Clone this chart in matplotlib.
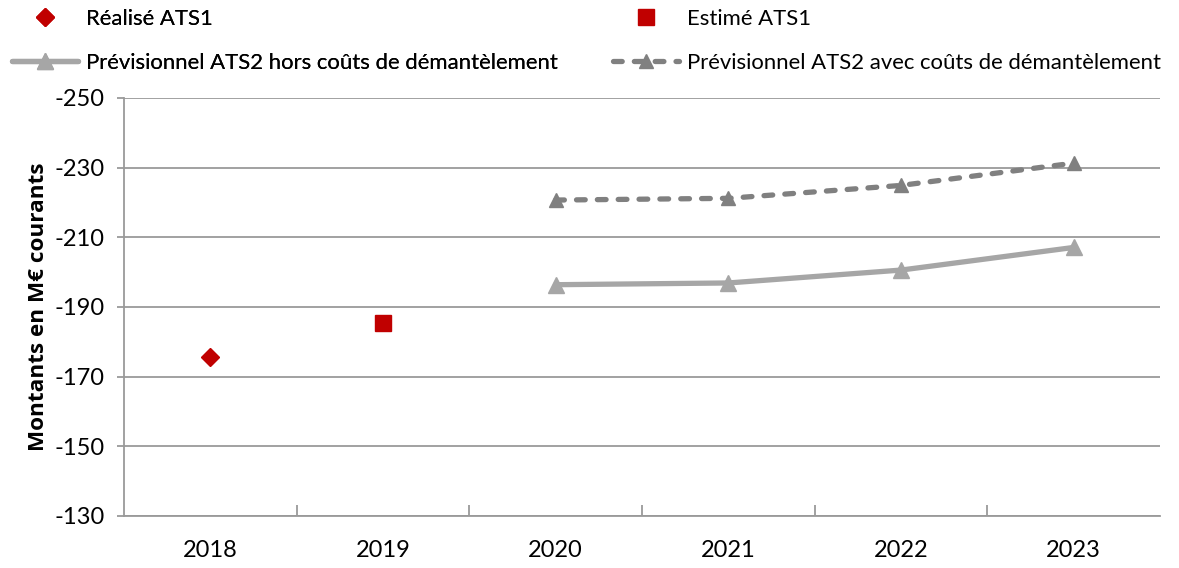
import matplotlib
matplotlib.use("Agg")
import matplotlib.pyplot as plt
import numpy as np

years = ["2018", "2019", "2020", "2021", "2022", "2023"]
realise = [-175.6, None, None, None, None, None]
estime = [None, -185.3, None, None, None, None]
prev_hors = [None, None, -196.4, -196.9, -200.6, -207.1]
prev_avec = [None, None, -220.7, -221.2, -224.9, -231.3]

plt.rcParams['font.family'] = ['Lato', 'DejaVu Sans']

W, H = 1179, 568
fig = plt.figure(figsize=(W / 100, H / 100), dpi=100)
ax = fig.add_axes([124/W, 1 - 516/H, (1160-124)/W, (516-98)/H])

x = np.arange(len(years))

def pts(vals):
    xs = [xi for xi, v in zip(x, vals) if v is not None]
    ys = [v for v in vals if v is not None]
    return xs, ys

red = "#C00000"
light = "#A6A6A6"
dark = "#808080"

xs, ys = pts(prev_hors)
l_hors, = ax.plot(xs, ys, color=light, lw=3.8, marker="^", markersize=12,
                  markerfacecolor=light, markeredgecolor=light, solid_capstyle="round", zorder=3)
xs, ys = pts(prev_avec)
l_avec, = ax.plot(xs, ys, color=dark, lw=3.8, marker="^", markersize=10,
                  markerfacecolor=dark, markeredgecolor=dark, linestyle=(0, (1.65, 2.3)),
                  dash_capstyle="round", zorder=3)
xs, ys = pts(realise)
l_real, = ax.plot(xs, ys, linestyle="none", marker="D", markersize=9.5, color=red, zorder=4)
xs, ys = pts(estime)
l_est, = ax.plot(xs, ys, linestyle="none", marker="s", markersize=11.5, color=red, zorder=4)

ax.set_xlim(-0.5, len(years) - 0.5)
ax.set_ylim(-130, -250)
ax.set_yticks(np.arange(-250, -129, 20))
ax.set_yticklabels([str(v) for v in range(-250, -129, 20)])
ax.set_xticks(x)
ax.set_xticklabels(years)
ax.set_xticks(np.arange(0.5, len(years) - 0.5, 1), minor=True)

ax.grid(axis="y", color="#9A9A9A", linewidth=1.3)
ax.set_axisbelow(True)
for s in ["top", "right"]:
    ax.spines[s].set_visible(False)
for s in ["left", "bottom"]:
    ax.spines[s].set_color("#9A9A9A")
    ax.spines[s].set_linewidth(1.3)

ax.tick_params(axis="y", length=5, color="#9A9A9A", width=1.3, labelsize=17, pad=9, labelcolor="black")
ax.tick_params(axis="x", which="major", length=0, labelsize=17, pad=17, labelcolor="black")
ax.tick_params(axis="x", which="minor", length=8, direction="in", color="#9A9A9A", width=1.3)

ax.set_ylabel("Montants en M€ courants", fontsize=16.2, fontweight="bold",
              family=["Open Sans", "DejaVu Sans"], labelpad=4)

fs = 15.9
common = dict(frameon=False, fontsize=fs, handlelength=3.0, handletextpad=0.35,
              labelspacing=1.08, borderpad=0, borderaxespad=0, loc="upper left")
leg1 = fig.legend([l_real, l_hors], ["Réalisé ATS1", "Prévisionnel ATS2 hors coûts de démantèlement"],
                  bbox_to_anchor=(12/W, 1 - 9/H), **common)
fig.add_artist(leg1)
leg2 = fig.legend([l_est, l_avec], ["Estimé ATS1", "Prévisionnel ATS2 avec coûts de démantèlement"],
                  bbox_to_anchor=(613/W, 1 - 9/H), **common)

fig.savefig("out.png", dpi=100)
